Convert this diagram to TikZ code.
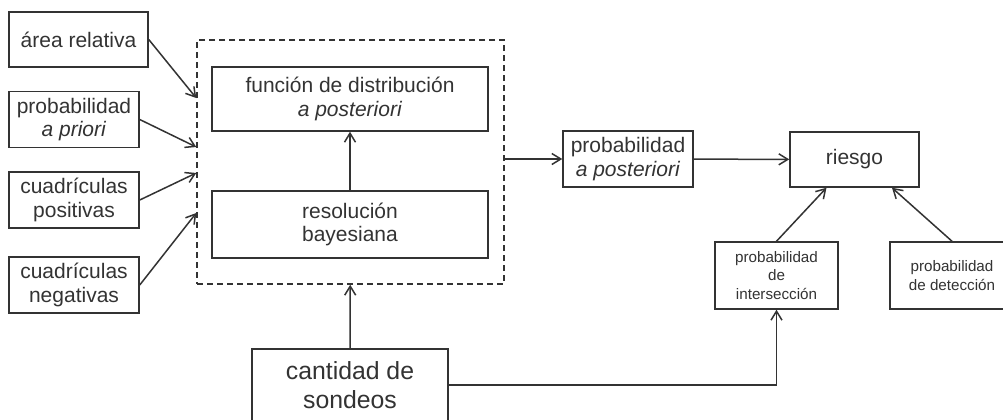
\documentclass[tikz,border=0pt]{standalone}
\usepackage{fontspec}
\setmainfont{Liberation Sans}
\usetikzlibrary{arrows.meta,positioning}
\definecolor{ink}{HTML}{333333}
\begin{document}
\begin{tikzpicture}[x=0.5pt, y=-0.5pt]
\tikzstyle{arrow} 	= [line width=0.75pt, color=ink, -{Straight Barb[length=4.5pt, width=5.5pt]}] % open arrow head
\tikzstyle{block} 	= [draw=ink, line width=0.75pt, rectangle, align=center, text=ink, inner sep=0pt, font=\fontsize{10.5}{11.8}\selectfont] % define block
\tikzstyle{inbox}	= [block, minimum width=65pt, minimum height=28pt] % input boxes on the left
\tikzstyle{smallbox}	= [block, minimum width=61.5pt, minimum height=33.5pt, font=\fontsize{7.6}{9.2}\selectfont] % small boxes under riesgo

\clip (0,0) rectangle (1003,419);
\fill[white] (0,0) rectangle (1003,419);

% inputs on the left
\node(AR)[inbox, minimum width=69.5pt, minimum height=27.5pt] at (78.5,39.5){área relativa};
\node(PP)[inbox] at (74,119.5){probabilidad\\\textit{a priori}};
\node(CP)[inbox, below of = PP, node distance = 40.25pt]{cuadrículas\\positivas};
\node(CN)[inbox, below of = CP, node distance = 42.5pt]{cuadrículas\\negativas};

% dashed frame with the two inner blocks
\node(BAY)[draw=ink, dash pattern=on 3pt off 2pt, line width=0.75pt, minimum width=153.5pt, minimum height=122pt] at (350.5,162){};
\node(FD)[block, minimum width=138pt, minimum height=32pt] at (350,99){función de distribución\\\textit{a posteriori}};
\node(RB)[block, minimum width=138pt, minimum height=33.5pt, below of = FD, node distance = 62.75pt]{resolución\\bayesiana};

% outputs
\node(PA)[block, minimum width=65pt, minimum height=28pt] at (628,159){probabilidad\\\textit{a posteriori}};
\node(R)[block, minimum width=64.5pt, minimum height=27.5pt] at (854.5,159.5){riesgo};
\node(PI)[smallbox] at (776.5,275.5){probabilidad\\de\\intersección};
\node(PD)[smallbox, minimum width=62pt, right of = PI, node distance = 87.75pt]{probabilidad\\de detección};

% number of soundings
\node(CS)[block, minimum width=98pt, minimum height=36pt, font=\fontsize{12.4}{14.6}\selectfont] at (350,385){cantidad de\\sondeos};

% connectors
\draw[arrow] (AR.east) -- ([yshift=32pt]BAY.west);
\draw[arrow] (PP.east) -- ([yshift=7.5pt]BAY.west);
\draw[arrow] (CP.east) -- ([yshift=-5.5pt]BAY.west);
\draw[arrow] (CN.east) -- ([yshift=-25.5pt]BAY.west);
\draw[arrow] (RB) -- (FD);
\draw[arrow] (CS) -- (BAY);
\draw[arrow] (PA.west -| BAY.east) -- (PA.west);
\draw[arrow] (PA) -- (R);
\draw[arrow] (PI.north) -- ([xshift=-14pt]R.south);
\draw[arrow] (PD.north) -- ([xshift=18.75pt]R.south);
\draw[arrow] (CS.east) -| (PI.south);
\end{tikzpicture}
\end{document}
